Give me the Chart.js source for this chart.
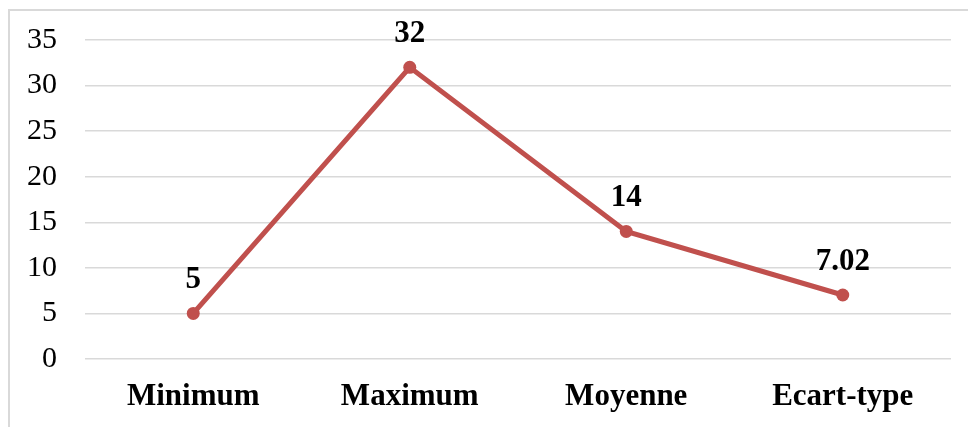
<!DOCTYPE html>
<html>
<head>
<meta charset="utf-8">
<script src="https://cdn.jsdelivr.net/npm/chart.js@4"></script>
<style>
  html, body { margin: 0; padding: 0; background: #fff; }
  #frame {
    position: absolute; left: 8px; top: 9px; width: 980px; height: 440px;
    border-left: 2px solid #d9d9d9; border-top: 2px solid #d9d9d9;
  }
  #wrap { position: absolute; left: 0; top: 0; width: 968px; height: 427px; }
</style>
</head>
<body>
<div id="frame"></div>
<div id="wrap"><canvas id="myChart"></canvas></div>
<script>
// data
const categories = ["Minimum", "Maximum", "Moyenne", "Ecart-type"];
const values = [5, 32, 14, 7.02];
const valueLabels = ["5", "32", "14", "7.02"];

const lineColor = "#c0504d";

// draws the value above each point
const pointLabels = {
  id: "pointLabels",
  afterDatasetsDraw(chart) {
    const { ctx } = chart;
    const meta = chart.getDatasetMeta(0);
    ctx.save();
    ctx.font = "bold 31px 'Liberation Serif'";
    ctx.fillStyle = "#000";
    ctx.textAlign = "center";
    ctx.textBaseline = "alphabetic";
    meta.data.forEach((pt, i) => {
      ctx.fillText(valueLabels[i], pt.x, pt.y - 25);
    });
    ctx.restore();
  },
};

const config = {
  type: "line",
  data: {
    labels: categories,
    datasets: [
      {
        data: values,
        borderColor: lineColor,
        backgroundColor: lineColor,
        borderWidth: 5,
        pointRadius: 6.5,
        pointBackgroundColor: lineColor,
        pointBorderWidth: 0,
        tension: 0,
      },
    ],
  },
  options: {
    responsive: true,
    maintainAspectRatio: false,
    animation: false,
    layout: { padding: { top: 0, right: 17, left: 0, bottom: 0 } },
    plugins: {
      legend: { display: false },
      tooltip: { enabled: false },
    },
    scales: {
      x: {
        offset: true,
        grid: { display: false, drawTicks: false, offset: true },
        border: { display: false },
        ticks: {
          padding: 19,
          color: "#000",
          font: { family: "'Liberation Serif'", size: 31, weight: "bold" },
        },
        afterFit(scale) {
          scale.height = 68;
        },
      },
      y: {
        min: 0,
        max: 35,
        grid: {
          color: "#d9d9d9",
          lineWidth: 1.5,
          drawTicks: true,
          tickLength: 6,
          tickColor: "rgba(0,0,0,0)",
        },
        border: { display: false },
        ticks: {
          stepSize: 5,
          padding: 22,
          color: "#000",
          font: { family: "'Liberation Serif'", size: 30 },
        },
        afterFit(scale) {
          scale.width = 85;
        },
      },
    },
  },
  plugins: [pointLabels],
};

const myChart = new Chart(document.getElementById("myChart"), config);
</script>
</body>
</html>
